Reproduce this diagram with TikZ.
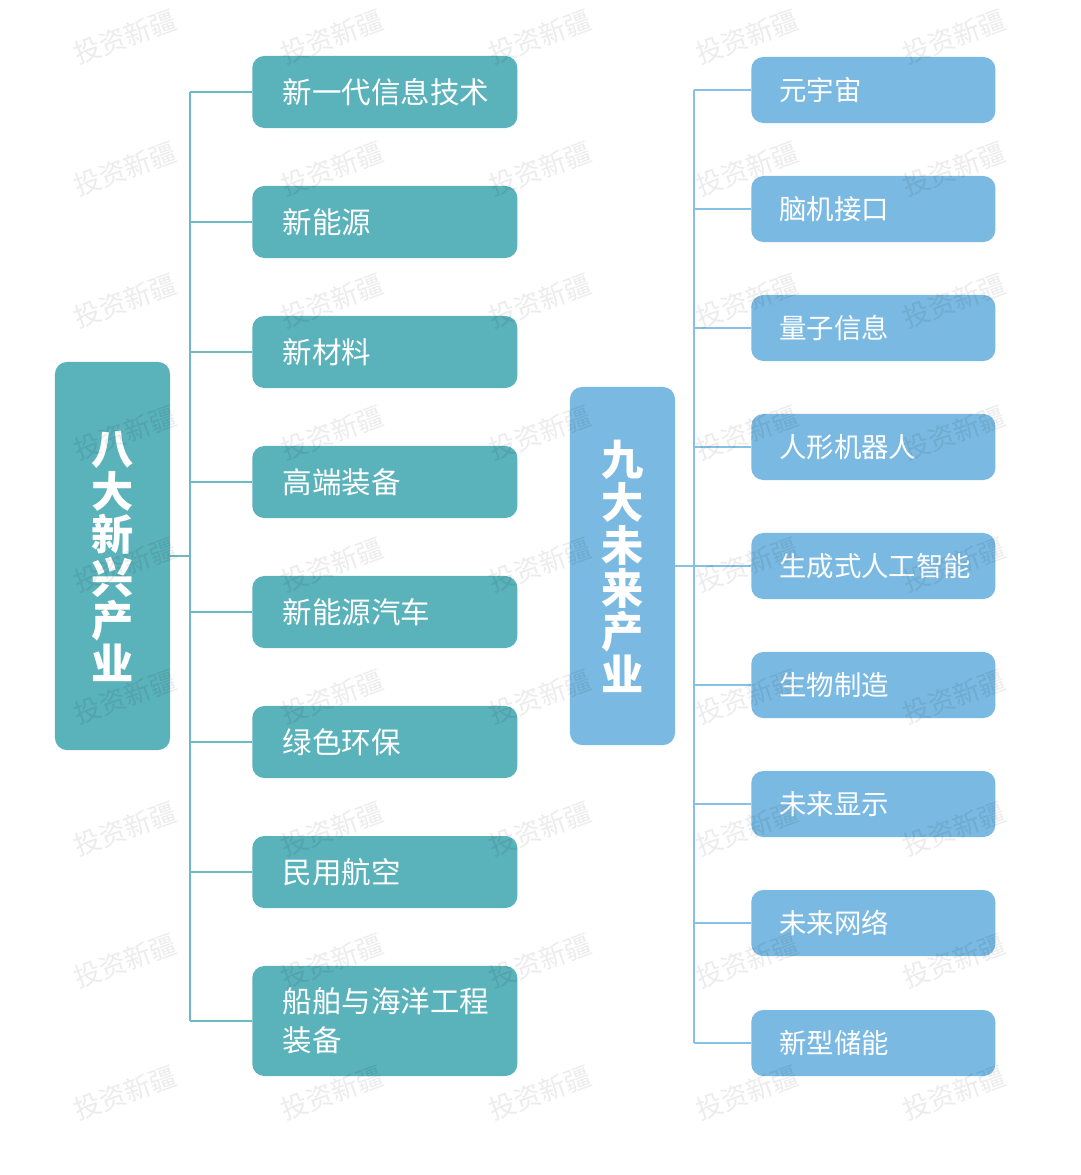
\documentclass[tikz,border=0pt]{standalone}
\usepackage{fontspec}
\setmainfont{Noto Sans CJK SC}
\usetikzlibrary{positioning}
\definecolor{tealbox}{HTML}{5AB2BA}
\definecolor{tealline}{HTML}{6DBAC1}
\definecolor{bluebox}{HTML}{7AB9E1}
\definecolor{blueline}{HTML}{86C0E4}
\tikzset{
	lmain/.style={fill=tealbox, rounded corners=0.3cm, minimum width=2.875cm, minimum height=9.7cm, align=center, text=white, font=\fontsize{30}{30.6}\selectfont\bfseries},
	rmain/.style={fill=bluebox, rounded corners=0.3cm, minimum width=2.625cm, minimum height=8.95cm, align=center, text=white, font=\fontsize{30}{30.6}\selectfont\bfseries},
	lbox/.style={fill=tealbox, rounded corners=0.3cm, anchor=west, minimum width=6.625cm, minimum height=1.8cm, text width=5.1cm, inner xsep=0.75cm, align=left, text=white, font=\fontsize{21}{27.6}\selectfont},
	rbox/.style={fill=bluebox, rounded corners=0.3cm, anchor=west, minimum width=6.1cm, minimum height=1.65cm, text width=4.7cm, inner xsep=0.66cm, align=left, text=white, font=\fontsize{19.5}{26}\selectfont},
	lline/.style={draw=tealline, line width=1.4pt},
	rline/.style={draw=blueline, line width=1.4pt},
	wmark/.style={text=black, opacity=0.075, rotate=20, font=\fontsize{19}{19}\selectfont}
}
\begin{document}
\begin{tikzpicture}[x=0.025cm,y=-0.025cm]
	\useasboundingbox[fill=white] (0,0) rectangle (1080,1175);
	% left side
	\node[lmain] (L) at (112.5,556) {八\\大\\新\\兴\\产\\业};
	\node[lbox] (l1) at (252,92) {新一代信息技术};
	\node[lbox] (l2) at (252,222) {新能源};
	\node[lbox] (l3) at (252,352) {新材料};
	\node[lbox] (l4) at (252,482) {高端装备};
	\node[lbox] (l5) at (252,612) {新能源汽车};
	\node[lbox] (l6) at (252,742) {绿色环保};
	\node[lbox] (l7) at (252,872) {民用航空};
	\node[lbox, minimum height=2.75cm] (l8) at (252,1021) {船舶与海洋工程\\装备};
	\coordinate (lt) at (190,92);
	\draw[lline] (l1.west -| lt) -- (l8.west -| lt);
	\draw[lline] (L.east) -- (L.east -| lt);
	\draw[lline] (l1.west) -- (l1.west -| lt);
	\draw[lline] (l2.west) -- (l2.west -| lt);
	\draw[lline] (l3.west) -- (l3.west -| lt);
	\draw[lline] (l4.west) -- (l4.west -| lt);
	\draw[lline] (l5.west) -- (l5.west -| lt);
	\draw[lline] (l6.west) -- (l6.west -| lt);
	\draw[lline] (l7.west) -- (l7.west -| lt);
	\draw[lline] (l8.west) -- (l8.west -| lt);
	% right side
	\node[rmain] (R) at (622.5,566) {九\\大\\未\\来\\产\\业};
	\node[rbox] (r1) at (751,90) {元宇宙};
	\node[rbox] (r2) at (751,209) {脑机接口};
	\node[rbox] (r3) at (751,328) {量子信息};
	\node[rbox] (r4) at (751,447) {人形机器人};
	\node[rbox] (r5) at (751,566) {生成式人工智能};
	\node[rbox] (r6) at (751,685) {生物制造};
	\node[rbox] (r7) at (751,804) {未来显示};
	\node[rbox] (r8) at (751,923) {未来网络};
	\node[rbox] (r9) at (751,1043) {新型储能};
	\coordinate (rt) at (694,90);
	\draw[rline] (r1.west -| rt) -- (r9.west -| rt);
	\draw[rline] (R.east) -- (R.east -| rt);
	\draw[rline] (r1.west) -- (r1.west -| rt);
	\draw[rline] (r2.west) -- (r2.west -| rt);
	\draw[rline] (r3.west) -- (r3.west -| rt);
	\draw[rline] (r4.west) -- (r4.west -| rt);
	\draw[rline] (r5.west) -- (r5.west -| rt);
	\draw[rline] (r6.west) -- (r6.west -| rt);
	\draw[rline] (r7.west) -- (r7.west -| rt);
	\draw[rline] (r8.west) -- (r8.west -| rt);
	\draw[rline] (r9.west) -- (r9.west -| rt);
	% watermark
	\foreach \x in {125,332,540,747,954}
		\foreach \y in {37,169,301,433,565,697,829,961,1093}
			\node[wmark] (w\x-\y) at (\x,\y) {投资新疆};
\end{tikzpicture}
\end{document}
